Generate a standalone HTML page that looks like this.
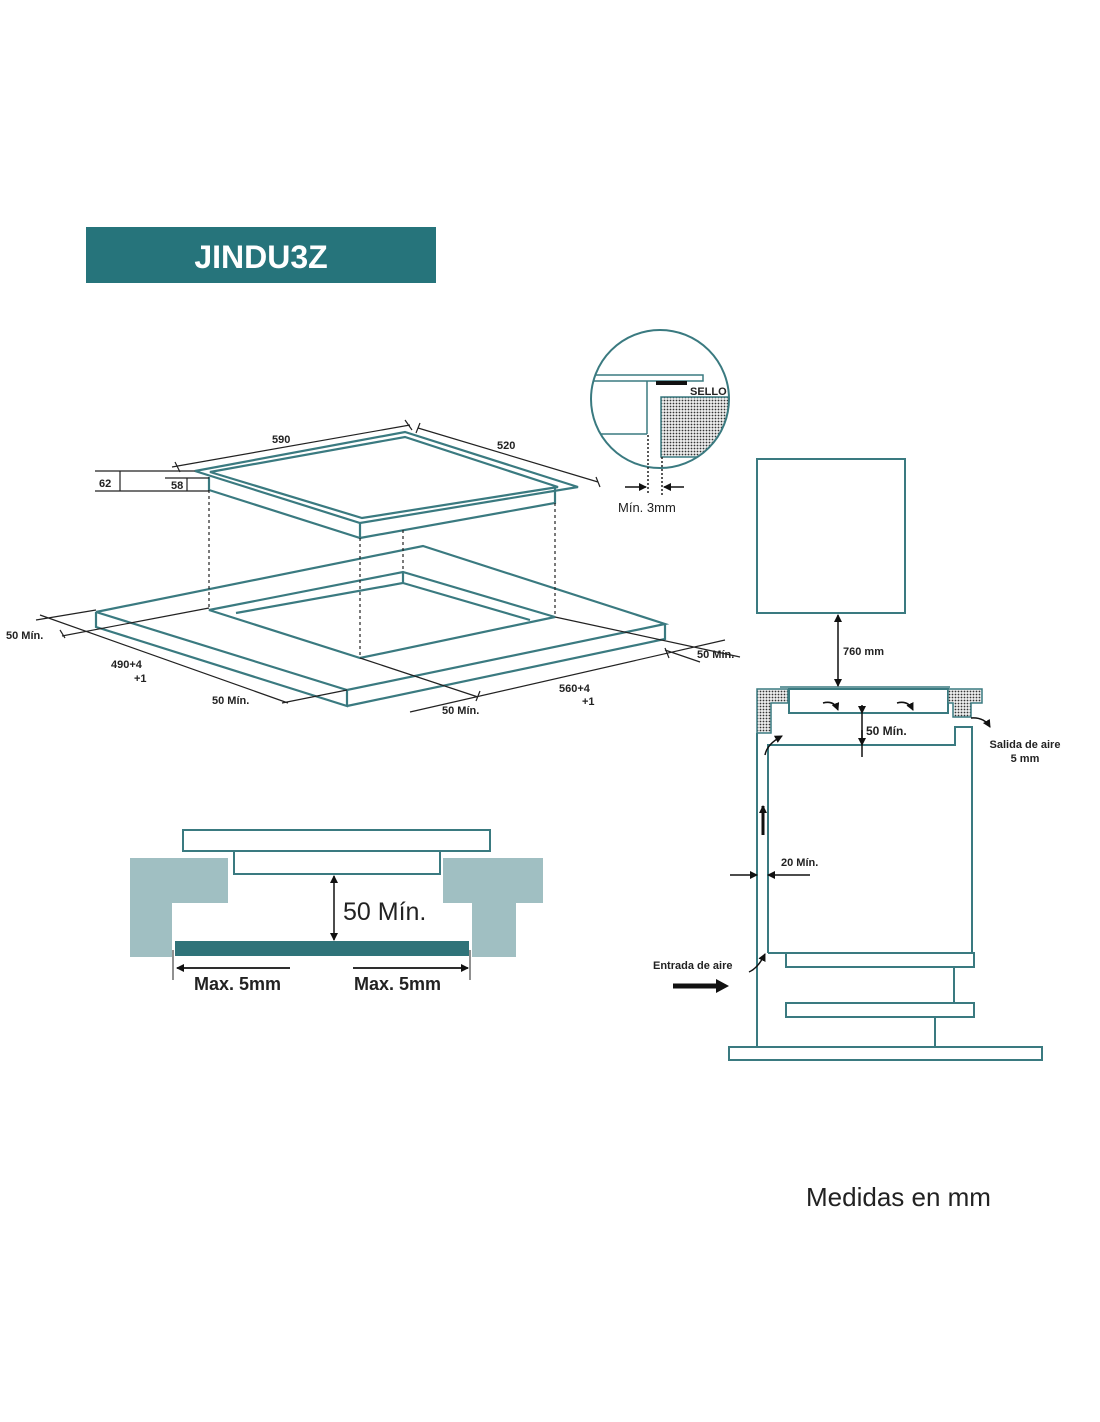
<!DOCTYPE html>
<html><head><meta charset="utf-8"><style>
html,body{margin:0;padding:0;background:#fff;}
svg{display:block;}
text{font-family:"Liberation Sans",sans-serif;}
</style></head><body>
<svg width="1100" height="1422" viewBox="0 0 1100 1422" xmlns="http://www.w3.org/2000/svg">
<defs>
<pattern id="dots" width="3" height="3" patternUnits="userSpaceOnUse"><rect width="3" height="3" fill="#eee"/><circle cx="1.5" cy="1.5" r="0.9" fill="#333"/></pattern>
<marker id="ah" markerWidth="8" markerHeight="8" refX="7" refY="4" orient="auto" markerUnits="userSpaceOnUse"><path d="M0,0 L8,4 L0,8 z" fill="#111"/></marker>
<clipPath id="cc"><circle cx="660" cy="399" r="69"/></clipPath>
</defs>
<rect x="86" y="227" width="350" height="56" fill="#26747b"/>
<text x="261" y="268" font-size="32" font-weight="bold" fill="#fff" text-anchor="middle">JINDU3Z</text>

<g fill="none" stroke="#3a7a80" stroke-width="2.2">
<polygon points="195,471 405,432 578,487 360,523"/>
<polygon points="210,472 405,437 558,487 362,518"/>
<path d="M209,477 V490 L360,538 V523 M360,538 L555,503 V488"/>
<polygon points="96,612 423,546 665,624 347,690"/>
<path d="M96,612 V627 L347,706 V690 M347,706 L665,639 V624"/>
<polygon points="209,610 403,572 555,617 360,658"/>
<path d="M403,572 V583 L236,613 M403,583 L530,620"/>
</g>
<g stroke="#222" stroke-width="1.2" stroke-dasharray="3,3" fill="none">
<path d="M209,490 V610 M360,538 V658 M403,530 V572 M555,503 V617"/>
</g>
<g stroke="#222" stroke-width="1.2" fill="none">
<path d="M172,467 L410,425 M175,462 L180,472 M405,420 L412,430"/>
<path d="M418,428 L598,482 M420,423 L416,433 M596,477 L600,487"/>
<path d="M95,471 H195 M95,491 H209 M120,471 V491 M165,478 H209 M187,478 V491"/>
<path d="M36,620 L96,610 M40,615 L288,703 M62,636 L209,608 M478,697 L360,658 M282,703 L347,690"/>
<path d="M410,712 L725,640 M555,617 L740,657 M665,650 L700,662"/>
<path d="M60,630 L65,638 M480,691 L476,701 M665,648 L669,658"/>
</g>
<g font-size="11" font-weight="bold" fill="#222">
<text x="272" y="443">590</text><text x="497" y="449">520</text>
<text x="99" y="487">62</text><text x="171" y="489">58</text>
<text x="6" y="639">50 Mín.</text><text x="111" y="668">490+4</text><text x="134" y="682">+1</text>
<text x="212" y="704">50 Mín.</text><text x="442" y="714">50 Mín.</text>
<text x="559" y="692">560+4</text><text x="582" y="705">+1</text><text x="697" y="658">50 Mín.</text>
</g>

<g clip-path="url(#cc)">
<rect x="661" y="397" width="70" height="60" fill="url(#dots)" stroke="#3a7a80" stroke-width="1.5"/>
<g fill="none" stroke="#3a7a80" stroke-width="1.5">
<path d="M585,375 H703 V381 H585 M647,381 V434 M585,434 H647"/>
</g>
</g>
<circle cx="660" cy="399" r="69" fill="none" stroke="#3a7a80" stroke-width="2"/>
<rect x="656" y="381" width="31" height="4" fill="#111"/>
<text x="690" y="395" font-size="11" font-weight="bold" fill="#222">SELLO</text>
<g stroke="#222" stroke-width="1.5" stroke-dasharray="2,2"><path d="M648,435 V495 M662,457 V495"/></g>
<path d="M625,487 H646" stroke="#111" stroke-width="1.5" marker-end="url(#ah)"/>
<path d="M684,487 H664" stroke="#111" stroke-width="1.5" marker-end="url(#ah)"/>
<text x="618" y="512" font-size="13" fill="#222">Mín. 3mm</text>

<g fill="none" stroke="#3a7a80" stroke-width="2">
<rect x="757" y="459" width="148" height="154"/>
<path d="M780,687 H950" stroke-width="1.5"/>
<rect x="789" y="689" width="159" height="24"/>
<path d="M757,733 V1047 M768,953 V745 H955 V727 H972 V953 H768"/>
<rect x="786" y="953" width="188" height="14"/>
<path d="M954,967 V1003"/>
<rect x="786" y="1003" width="188" height="14"/>
<path d="M935,1017 V1047"/>
<rect x="729" y="1047" width="313" height="13"/>
</g>
<path d="M757,689 H788 V703 H771 V733 H757 Z" fill="url(#dots)" stroke="#3a7a80" stroke-width="1.5"/>
<path d="M948,689 H982 V703 H971 V717 H953 V703 H948 Z" fill="url(#dots)" stroke="#3a7a80" stroke-width="1.5"/>
<g stroke="#111" stroke-width="1.5" fill="none">
<path d="M838,630 V615" marker-end="url(#ah)"/><path d="M838,630 V686" marker-end="url(#ah)"/>
<path d="M862,705 V713" marker-end="url(#ah)"/><path d="M862,730 V745" marker-end="url(#ah)"/><path d="M862,713 V757"/>
<path d="M730,875 H757" marker-end="url(#ah)"/><path d="M810,875 H768" marker-end="url(#ah)"/>
<path d="M823,703 Q834,700 838,710" marker-end="url(#ah)"/>
<path d="M897,703 Q908,700 913,710" marker-end="url(#ah)"/>
<path d="M971,718 Q984,717 990,727" marker-end="url(#ah)"/>
<path d="M765,755 Q767,744 782,736" marker-end="url(#ah)"/>
<path d="M749,972 Q758,968 765,954" marker-end="url(#ah)"/>
</g>
<path d="M763,835 V806" stroke="#111" stroke-width="3" marker-end="url(#ah)"/>
<path d="M673,986 H718" stroke="#111" stroke-width="5"/><path d="M716,979 L729,986 L716,993 z" fill="#111"/>
<g font-size="11" fill="#222" font-weight="bold">
<text x="843" y="655">760 mm</text>
<text x="866" y="735" font-size="12">50 Mín.</text>
<text x="1025" y="748" text-anchor="middle">Salida de aire</text>
<text x="1025" y="762" text-anchor="middle">5 mm</text>
<text x="781" y="866">20 Mín.</text>
<text x="653" y="969">Entrada de aire</text>
</g>

<path d="M130,858 H228 V903 H172 V957 H130 Z" fill="#a0bfc2"/>
<path d="M443,858 H543 V903 H516 V957 H472 V903 H443 Z" fill="#a0bfc2"/>
<rect x="183" y="830" width="307" height="21" fill="#fff" stroke="#3a7a80" stroke-width="2"/>
<rect x="234" y="851" width="206" height="23" fill="#fff" stroke="#3a7a80" stroke-width="2"/>
<rect x="175" y="941" width="294" height="15" fill="#2f7379"/>
<path d="M334,900 V876" stroke="#111" stroke-width="1.5" marker-end="url(#ah)"/>
<path d="M334,900 V940" stroke="#111" stroke-width="1.5" marker-end="url(#ah)"/>
<text x="343" y="920" font-size="25" fill="#222">50 Mín.</text>
<path d="M173,950 V980 M470,950 V980" stroke="#222" stroke-width="1"/>
<path d="M290,968 H177" stroke="#111" stroke-width="1.8" marker-end="url(#ah)"/>
<path d="M353,968 H468" stroke="#111" stroke-width="1.8" marker-end="url(#ah)"/>
<text x="194" y="990" font-size="18" font-weight="bold" fill="#222">Max. 5mm</text>
<text x="354" y="990" font-size="18" font-weight="bold" fill="#222">Max. 5mm</text>

<text x="806" y="1206" font-size="26" fill="#222">Medidas en mm</text>
</svg>
</body></html>
